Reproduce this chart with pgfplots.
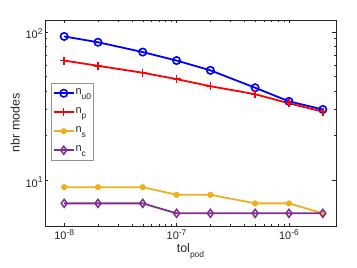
\documentclass[border=0pt]{standalone}
\usepackage{fontspec}
\setmainfont{Liberation Sans}
\usepackage{pgfplots}
\pgfplotsset{compat=1.18}
\definecolor{mblue}{rgb}{0,0,1}
\definecolor{mred}{rgb}{1,0,0}
\definecolor{morange}{rgb}{0.929,0.694,0.125}
\definecolor{mpurple}{rgb}{0.494,0.184,0.556}
\definecolor{axgray}{rgb}{0.15,0.15,0.15}
\newcommand{\sups}[1]{\raisebox{4.5bp}{\fontsize{8.5}{9}\selectfont #1}}
\newcommand{\subs}[1]{\raisebox{-4.5bp}{\fontsize{8.5}{9}\selectfont #1}}
\begin{document}
\begin{tikzpicture}
\begin{axis}[
  scale only axis,
  width=291bp, height=206bp,
  xmode=log, ymode=log,
  xmin=6.75e-9, xmax=2.62e-6,
  ymin=4.93, ymax=120,
  axis line style={axgray, line width=0.5pt},
  every tick/.style={axgray, line width=0.4pt},
  major tick length=3.5bp, minor tick length=2bp,
  tick align=inside,
  xtick={1e-8,1e-7,1e-6},
  xticklabels={10\sups{-8},10\sups{-7},10\sups{-6}},
  ytick={10,100},
  yticklabels={10\sups{1},10\sups{2}},
  tick label style={font=\fontsize{11}{12}\selectfont, text=axgray},
  yticklabel style={xshift=1bp, yshift=-2bp},
  xlabel={tol\subs{pod}},
  ylabel={nbr modes},
  label style={font=\fontsize{12.5}{14}\selectfont, text=axgray},
  xlabel style={yshift=3bp},
  ylabel style={yshift=-1bp},
  legend style={at={(0.021,0.694)}, anchor=north west, draw=axgray!50, line width=0.5pt,
    font=\fontsize{11}{12}\selectfont, text=axgray, row sep=2bp, inner sep=1.5bp,
    nodes={text height=8bp, text depth=5bp, inner xsep=1bp}},
  legend cell align=left,
  legend image code/.code={\draw[#1] (0bp,0bp) -- (10bp,0bp) plot coordinates {(10bp,0bp)} -- (20bp,0bp);},
]
\addplot[mblue, line width=1.8pt, mark=o, mark size=3.7bp, mark options={line width=1.6pt}]
  coordinates {(1e-8,93) (2e-8,85) (5e-8,73) (1e-7,64) (2e-7,55) (5e-7,42) (1e-6,34) (2e-6,30)};
\addlegendentry{n\subs{u0}}
\addplot[mred, line width=1.8pt, mark=+, mark size=4bp, mark options={line width=1.4pt}]
  coordinates {(1e-8,64) (2e-8,59) (5e-8,53) (1e-7,48) (2e-7,43) (5e-7,38) (1e-6,33) (2e-6,29)};
\addlegendentry{n\subs{p}}
\addplot[morange, line width=1.8pt, mark=*, mark size=2.8bp, mark options={line width=0.5pt}]
  coordinates {(1e-8,9) (2e-8,9) (5e-8,9) (1e-7,8) (2e-7,8) (5e-7,7) (1e-6,7) (2e-6,6)};
\addlegendentry{n\subs{s}}
\addplot[mpurple, line width=1.8pt, mark=diamond, mark size=4bp, mark options={line width=1.5pt}]
  coordinates {(1e-8,7) (2e-8,7) (5e-8,7) (1e-7,6) (2e-7,6) (5e-7,6) (1e-6,6) (2e-6,6)};
\addlegendentry{n\subs{c}}
\end{axis}
\pgfresetboundingbox
\path[use as bounding box] ([shift={(-45bp,-42bp)}]current axis.south west) rectangle ([shift={(21bp,20bp)}]current axis.north east);
\end{tikzpicture}
\end{document}
